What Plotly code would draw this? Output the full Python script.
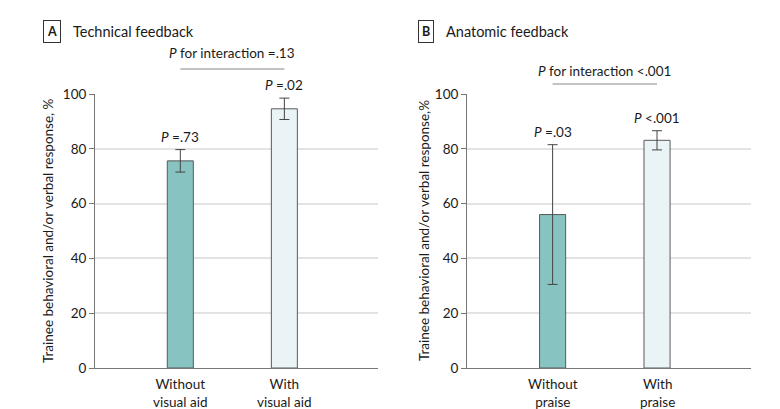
import plotly.graph_objects as go

# ---- data ----
cats_a = ["Without<br>visual aid", "With<br>visual aid"]
vals_a = [75.6, 94.6]
err_a = [4.1, 3.9]
p_a = ["<i>P</i> =.73", "<i>P</i> =.02"]
inter_a = "<i>P</i> for interaction =.13"

cats_b = ["Without<br>praise", "With<br>praise"]
vals_b = [56.0, 83.1]
err_b = [25.5, 3.5]
p_b = ["<i>P</i> =.03", "<i>P</i> <.001"]
inter_b = "<i>P</i> for interaction <.001"

yticks = [0, 20, 40, 60, 80, 100]
colors = ["#86C3C1", "#EAF3F5"]

W, H = 780, 409
T, B = 86, 49
PH = H - T - B

def py(pix):
    return (H - B - pix) / PH

FONT = "Lato"
TXT = "#1a1a1a"
fig = go.Figure()

for i, (cats, vals, errs, xa, ya) in enumerate([
        (cats_a, vals_a, err_a, "x", "y"),
        (cats_b, vals_b, err_b, "x2", "y2")]):
    fig.add_trace(go.Bar(
        x=[0, 1], y=vals, width=0.25,
        marker=dict(color=colors, line=dict(color="#5a5a5a", width=1)),
        error_y=dict(type="data", array=errs, color="#444", thickness=1, width=5),
        xaxis=xa, yaxis=ya, showlegend=False, hoverinfo="skip"))

fig.add_trace(go.Scatter(x=[0.5], y=[109.8], mode="markers", cliponaxis=False,
                         marker=dict(symbol="triangle-up", size=7, color="#555"),
                         xaxis="x", yaxis="y", showlegend=False))
fig.add_trace(go.Scatter(x=[0.5], y=[104.4], mode="markers", cliponaxis=False,
                         marker=dict(symbol="triangle-up", size=7, color="#555"),
                         xaxis="x2", yaxis="y2", showlegend=False))

xrng = [-0.82, 1.9]
common_x = dict(range=xrng, tickmode="array", tickvals=[0, 1], showgrid=False,
                showline=True, linecolor="#777", linewidth=1, ticks="",
                showticklabels=False, zeroline=False)
common_y = dict(range=[0, 100], tickvals=yticks, showgrid=True, gridcolor="#e3e3e3",
                gridwidth=1.5, showline=True, linecolor="#777", linewidth=1,
                ticks="outside", ticklen=5, tickcolor="#777", zeroline=False,
                tickfont=dict(family=FONT, size=13.5, color=TXT))

fig.update_layout(
    width=W, height=H,
    margin=dict(l=0, r=0, t=T, b=B),
    paper_bgcolor="white", plot_bgcolor="white",
    font=dict(family=FONT, size=13, color=TXT),
    xaxis=dict(domain=[87 / W, 370 / W], **common_x),
    xaxis2=dict(domain=[459 / W, 743 / W], anchor="y2", **common_x),
    yaxis=dict(**common_y),
    yaxis2=dict(anchor="x2", **common_y),
    bargap=0.5,
)

anns = []
for vals, errs, ptxt, cats, xr, yr in [(vals_a, err_a, p_a, cats_a, "x", "y"),
                                       (vals_b, err_b, p_b, cats_b, "x2", "y2")]:
    for j in range(2):
        anns.append(dict(x=j, y=vals[j] + errs[j], xref=xr, yref=yr, text=ptxt[j],
                         showarrow=False, yanchor="bottom", yshift=3,
                         font=dict(family=FONT, size=13.5, color=TXT)))
        anns.append(dict(x=j, y=0, xref=xr, yref=yr, text=cats[j],
                         showarrow=False, yanchor="top", yshift=-6,
                         font=dict(family=FONT, size=13.5, color=TXT)))

anns += [
    dict(x=0.5, y=py(45), xref="x", yref="paper", text=inter_a, showarrow=False,
         yanchor="middle", font=dict(family=FONT, size=13.5, color=TXT)),
    dict(x=0.5, y=py(63), xref="x2", yref="paper", text=inter_b, showarrow=False,
         yanchor="middle", font=dict(family=FONT, size=13.5, color=TXT)),
    dict(x=44 / W, y=py(24), xref="paper", yref="paper", text="<b>A</b>", showarrow=False,
         xanchor="center", yanchor="middle", bordercolor="#333", borderwidth=1, borderpad=3,
         font=dict(family=FONT, size=12.5, color=TXT)),
    dict(x=418 / W, y=py(24), xref="paper", yref="paper", text="<b>B</b>", showarrow=False,
         xanchor="center", yanchor="middle", bordercolor="#333", borderwidth=1, borderpad=3,
         font=dict(family=FONT, size=12.5, color=TXT)),
    dict(x=63 / W, y=py(24), xref="paper", yref="paper", text="Technical feedback",
         showarrow=False, xanchor="left", yanchor="middle",
         font=dict(family=FONT, size=14.5, color=TXT)),
    dict(x=436 / W, y=py(24), xref="paper", yref="paper", text="Anatomic feedback",
         showarrow=False, xanchor="left", yanchor="middle",
         font=dict(family=FONT, size=14.5, color=TXT)),
    dict(x=40 / W, y=0.5, xref="paper", yref="paper",
         text="Trainee behavioral and/or verbal response, %", textangle=-90,
         showarrow=False, xanchor="center", yanchor="middle",
         font=dict(family=FONT, size=13.5, color=TXT)),
    dict(x=416 / W, y=0.5, xref="paper", yref="paper",
         text="Trainee behavioral and/or verbal response,%", textangle=-90,
         showarrow=False, xanchor="center", yanchor="middle",
         font=dict(family=FONT, size=13.5, color=TXT)),
]
fig.update_layout(annotations=anns)

fig.update_layout(shapes=[
    dict(type="line", xref="x", yref="paper", x0=0, x1=1, y0=py(61), y1=py(61),
         line=dict(color="#888", width=1)),
    dict(type="line", xref="x2", yref="paper", x0=0, x1=1, y0=py(76), y1=py(76),
         line=dict(color="#888", width=1)),
])

fig.write_html("out.html")
